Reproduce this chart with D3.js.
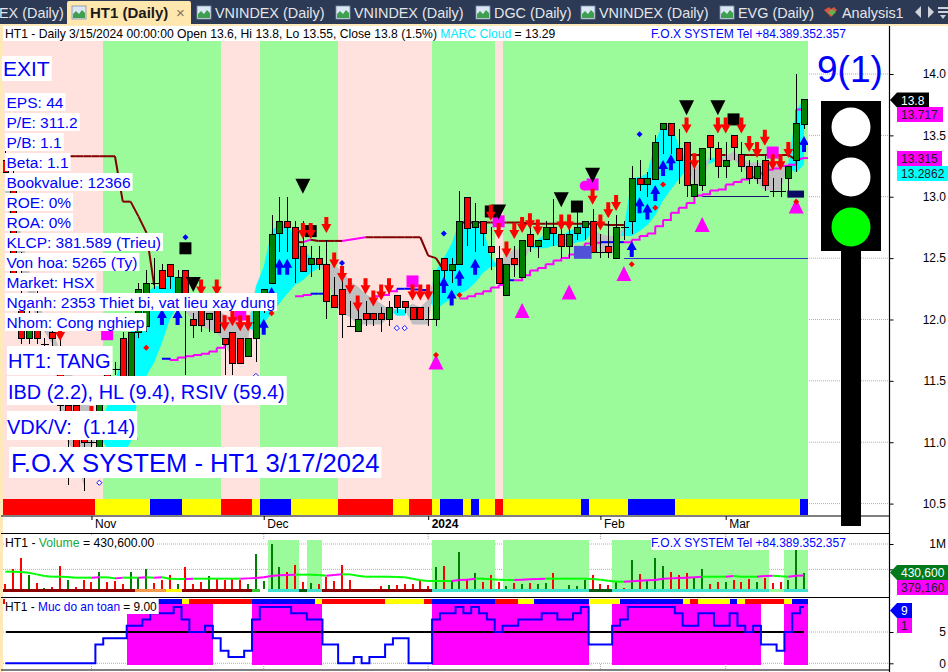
<!DOCTYPE html>
<html><head><meta charset="utf-8">
<script src="https://cdn.jsdelivr.net/npm/d3@7/dist/d3.min.js"></script>
<style>
html,body{margin:0;padding:0;background:#fff;overflow:hidden}
svg{display:block;font-family:"Liberation Sans",Arial,sans-serif}
text{white-space:pre}
.crisp{shape-rendering:crispEdges}
</style></head><body><svg id="c" width="948" height="672"></svg>
<script>
// ---- candle data, index = bars ago (0 = 3/15/2024)
const opens=[13.6,13.3,13.15,13.05,13.05,13.3,13.15,13.25,13.35,13.5,13.25,13.4,13.5,13.1,13.0,13.45,13.4,13.6,13.55,13.15,13.1,13.15,12.8,12.75,12.5,12.6,12.55,12.8,12.75,12.7,12.6,12.7,12.75,12.65,12.6,12.7,12.35,12.5,12.2,12.5,12.6,12.8,12.75,13.0,12.45,12.4,12.5,12.0,12.0,12.1,12.1,12.15,12.2,12.0,12.05,12.05,12.05,11.9,11.95,12.25,12.2,12.45,12.5,12.45,12.6,12.75,12.8,12.7,12.3,12.1,11.85,11.7,11.85,11.9,11.85,12.1,12.0,12.1,12.0,12.4,12.1,12.45,12.4,12.3,11.95,11.9,11.4,11.85,11.6,11.6,10.95,11.0,11.05,11.3,11.3,11.75,11.9,11.8,12.05,11.85,12.2,13.1,13.3];
const highs=[13.8,14.0,13.25,13.15,13.15,13.35,13.3,13.3,13.45,13.5,13.45,13.45,13.5,13.4,13.25,13.45,13.55,13.6,13.6,13.5,13.2,13.3,13.25,12.8,12.85,12.8,12.7,12.9,12.8,12.9,12.8,12.8,12.98,12.8,12.65,12.75,12.65,12.6,12.45,12.6,12.75,12.8,12.95,13.0,13.05,12.5,12.5,12.4,12.1,12.1,12.1,12.15,12.2,12.15,12.1,12.05,12.15,12.1,12.15,12.35,12.35,12.65,12.6,12.6,12.8,12.8,13.0,13.0,12.85,12.25,12.15,11.85,11.85,11.9,11.85,12.15,12.05,12.15,12.05,12.4,12.4,12.45,12.45,12.5,12.4,12.3,11.9,11.9,11.65,11.7,11.5,11.1,11.1,11.35,11.4,11.85,12.05,11.85,12.3,12.2,12.55,13.3,13.4];
const lows=[13.55,13.2,13.05,13.0,13.0,13.05,13.1,13.1,13.2,13.3,13.15,13.15,13.3,13.05,13.0,13.0,13.1,13.35,13.35,13.15,13.0,13.05,12.7,12.65,12.5,12.5,12.5,12.55,12.65,12.65,12.5,12.5,12.6,12.65,12.5,12.55,12.35,12.35,12.2,12.3,12.4,12.6,12.55,12.6,12.45,12.3,12.3,11.95,11.95,12.0,12.0,12.05,12.05,11.95,11.9,11.95,11.95,11.9,11.95,11.85,12.1,12.0,12.4,12.35,12.4,12.3,12.55,12.55,12.3,12.05,11.65,11.7,11.65,11.55,11.55,11.9,11.9,11.9,11.85,11.55,12.05,12.25,12.25,12.25,11.9,11.85,11.35,11.45,11.55,11.5,10.9,10.95,10.6,10.95,10.65,11.2,11.75,11.75,11.8,11.8,11.8,12.3,13.15];
const closes=[13.8,13.6,13.25,13.05,13.05,13.1,13.25,13.15,13.25,13.4,13.3,13.25,13.4,13.4,13.1,13.1,13.3,13.5,13.6,13.45,13.15,13.1,13.15,12.75,12.75,12.55,12.55,12.55,12.8,12.75,12.7,12.6,12.7,12.75,12.65,12.6,12.65,12.45,12.45,12.3,12.55,12.7,12.8,12.75,12.8,12.45,12.4,12.4,12.0,12.0,12.0,12.1,12.1,12.1,12.0,12.0,12.0,12.0,11.95,12.05,12.1,12.15,12.45,12.5,12.4,12.5,12.75,12.8,12.7,12.25,12.1,11.85,11.65,11.65,11.8,11.9,12.05,11.95,11.95,12.1,12.35,12.35,12.25,12.3,12.3,12.25,11.9,11.5,11.6,11.5,11.45,11.0,11.0,10.95,11.25,11.3,11.85,11.8,11.85,12.05,11.85,12.35,13.2];
// cloud edges, bars ago
const cloudFast=[13.8,13.7,13.27,13.05,13.05,13.05,13.12,13.18,13.25,13.3,13.27,13.31,13.32,13.1,13.08,13.3,13.42,13.6,13.6,13.45,13.19,13.16,13.15,12.75,12.54,12.54,12.55,12.72,12.8,12.75,12.72,12.68,12.7,12.7,12.65,12.58,12.43,12.44,12.4,12.42,12.51,12.75,12.8,12.81,12.8,12.62,12.5,12.4,11.96,11.96,11.96,12.08,12.09,12.02,11.96,11.96,11.96,11.96,12.02,12.05,12.13,12.38,12.43,12.51,12.57,12.67,12.77,12.78,12.72,12.43,12.27,11.82,11.65,11.66,11.81,11.89,11.92,11.94,12.0,12.06,12.32,12.38,12.27,12.27,12.21,12.0,11.9,11.7,11.5,11.3,11.1,10.95,10.65,10.9,11.0,11.2,11.8,11.9,12.0,12.2,12.4,12.7,13.0];
const cloudSlow=[13.26,13.2,13.23,13.27,13.27,13.27,13.28,13.28,13.32,13.37,13.33,13.3,13.27,13.26,13.25,13.22,13.14,13.06,12.97,12.85,12.77,12.72,12.68,12.68,12.68,12.68,12.7,12.71,12.64,12.63,12.6,12.6,12.6,12.58,12.58,12.58,12.57,12.57,12.54,12.43,12.43,12.38,12.3,12.24,12.21,12.17,12.13,12.08,12.16,12.1,12.13,12.03,12.03,12.08,12.13,12.17,12.21,12.27,12.31,12.4,12.44,12.46,12.42,12.38,12.32,12.28,12.21,12.13,12.05,11.97,11.89,11.94,12.0,12.02,12.04,12.08,12.09,12.1,12.12,12.13,12.11,12.0,11.81,11.65,11.54,11.4,11.0,10.9,10.9,10.95,11.05,11.28,11.4,11.5,11.6,11.75,11.9,12.0,12.2,12.4,12.7,12.95,13.2];
const _=null;
const upperLine=[13.315,13.3,13.34,13.34,13.34,13.34,13.34,13.34,13.34,_,13.34,13.34,_,13.34,13.34,13.34,_,_,_,_,_,_,_,12.77,12.77,12.77,12.78,12.78,12.78,12.78,12.78,12.78,12.78,12.78,12.78,12.78,12.79,12.79,12.79,12.79,12.79,12.79,12.79,12.79,12.79,_,12.4,12.5,12.52,12.67,12.67,12.67,12.67,12.67,12.67,12.67,12.67,12.66,12.65,12.64,12.64,12.64,12.64,12.65,12.63,12.63,_,_,_,_,_,_,_,_,_,_,_,_,_,_,_,_,_,12.28,12.71,12.84,12.96,12.96,13.33,13.33,13.33,13.33,13.33,13.33,13.33,13.33,13.33,13.33,13.33,13.33,13.33,13.33,13.33];
const lowerLine=[13.717,13.71,13.26,13.25,13.23,13.22,13.19,13.16,13.14,13.12,13.1,13.06,13.05,13.02,13.01,12.95,12.91,12.87,12.81,12.76,12.7,12.68,12.65,12.63,12.63,12.63,12.63,12.625,12.62,12.58,12.53,12.5,12.48,12.45,12.42,12.4,12.36,12.32,12.32,12.28,12.26,12.23,12.21,12.19,12.17,_,_,_,12.23,12.24,12.245,12.25,12.25,12.23,12.2,12.19,_,_,_,_,_,12.21,12.21,12.21,12.2,12.19,_,_,_,_,_,_,_,_,11.81,11.77,11.74,11.72,11.71,11.7,11.69,11.67,11.68,_,_,_,_,_,_,_,_,_,_,_,_,_,_,_,_,_,_,_,_];
// signal marks: [bars ago, price]
const downTriangles=[[64,13.09],[78,12.29],[39,12.88],[31,12.98],[27,13.18],[15,13.73],[11,13.73]];
const upTriangles=[[47,11.65],[36,12.07],[30,12.22],[23,12.37],[13,12.77],[1,12.92],[86,11.08]];
const blackSquares=[[79,12.58],[63,12.72],[40,12.88],[29,12.92],[9,13.63]];
const magentaSquares=[[50,12.31],[39,12.8],[27,13.1],[4,13.36],[72,12.04],[89,11.88]];
const magentaDots=[[28,13.09]];
const blueArrows=[[22,12.575],[21,12.93],[20,12.88],[19,13.03],[18,13.235],[17,13.28],[0,13.43],[69,11.94],[67,12.43],[66,12.43],[46,12.28],[45,12.18],[44,12.34],[42,12.43],[68,12.2],[82,12.02],[80,12.02]];
const redArrows=[[35,12.8],[34,12.75],[31,12.79],[30,12.79],[27,13.0],[26,12.79],[25,12.89],[24,12.95],[15,13.58],[14,13.29],[11,13.58],[10,13.58],[8,13.58],[7,13.43],[6,13.38],[5,13.48],[4,13.28],[3,13.28],[2,13.38],[64,12.72],[63,12.72],[61,12.77],[60,12.48],[59,12.37],[58,12.27],[57,12.13],[56,12.27],[55,12.17],[54,12.22],[53,12.27],[50,12.22],[49,12.22],[48,12.22],[40,12.87],[39,12.72],[38,12.57],[37,12.72],[36,12.77],[77,12.26],[75,12.26],[74,11.97],[73,12.01],[72,11.97],[71,11.97],[95,11.89],[91,11.23]];
const blueDiamonds=[[59,12.46],[46,12.7],[21,13.51],[79,12.67]];
const redDiamonds=[[84,11.77],[68,12.05],[44,12.2],[47,11.71],[18,13.1],[19,12.91],[22,12.45],[1,12.96]];
const openDiamonds=[[52,11.93],[51,11.93],[90,10.67],[70,11.54]];
const supportLevels=[{from:13,to:5,price:13.0},{from:23,to:0,price:12.5}];
// bar states as runs, oldest bar first
const backgroundRuns=[13,15,5,10,12,8,1,39];
const backgroundStates=["weak","strong","weak","strong","weak","strong","weak","strong"];
const trendRuns=[12,7,4,5,4,1,4,6,7,2,3,1,3,1,1,2,1,10,1,5,6,16,1];
const trendStates=["R","Y","B","Y","R","Y","B","Y","R","Y","R","Y","B","Y","B","Y","R","Y","B","Y","B","Y","B"];
// volume, thousands, oldest bar first
const volume=[211,500,724,388,224,132,158,566,290,145,290,250,447,250,270,211,447,355,507,230,290,388,211,546,211,250,368,309,290,309,290,211,803,270,1000,546,447,586,250,230,211,349,270,586,290,112,92,92,171,191,191,211,211,290,171,546,566,270,842,309,434,250,388,250,171,230,211,230,211,230,428,92,191,171,290,388,211,191,250,132,684,408,290,724,566,447,388,428,329,507,211,250,250,290,250,309,250,329,230,250,290,882,430.6];
const volumeSide="rrrgrgrrgr"+"rrgrrrgggr"+"rrgrrrgrrr"+"rggggg"+"rrrg"+"rrrrrgrrrg"+"rrrrrgrggr"+"grrrgrgrgg"+"rrgggrrrgr"+"grgggrrrgg"+"rrgrrrgrrr"+"ggg";
const volumeMA=[454,454,447,434,401,368,355,355,349,336,336,336,342,342,322,336,336,336,342,336,342,316,309,309,316,316,316,316,316,316,316,322,329,342,368,382,388,395,395,395,388,375,388,401,401,375,355,355,355,355,349,342,316,283,270,270,270,270,290,296,316,316,303,296,290,290,296,303,309,316,316,316,316,316,316,309,296,276,257,257,263,276,283,290,316,322,329,336,342,355,355,355,355,368,355,355,355,368,375,362,355,375,379.16];
const volStripRuns=[17,4,2,9,1,1,4,1,2,14,20,3,20,2,3];
const volStripStates=["dark","orange","yellow","dark","green","none","teal","deep","teal","dark","teal","deep","teal","pale","teal"];
const volGreenRuns=[34,4,1,2,14,8,1,11,3,20,2,3];
const volGreenStates=[0,1,0,1,0,1,0,1,0,1,0,1];
// safety level, oldest bar first
const safety=[0,0,0,0,0,0,0,0,0,0,0,0,3,4,4,4,6,6,7,8,8,8,9,7,5,5,6,4,2,1,1,2,7,9,9,9,9,8,8,7,7,3,3,0,0,1,0,1,1,3,4,4,0,0,0,7,8,8,9,8,9,8,7,5,6,6,7,7,7,8,8,7,7,8,9,3,3,3,6,7,9,9,9,9,9,9,8,6,6,8,8,6,6,8,6,5,6,3,3,2,5,8,9];
const safeRuns=[16,11,5,9,14,20,3,19,3,3];
const safeStates=[0,1,0,1,0,1,0,1,0,1];
const safeStripRuns=[20,3,1,8,8,1,8,5,1,8,3,2,7,4,8,1,1,4,1,1,5,1,2];
const safeStripStates=["R","B","Y","R","B","Y","R","Y","R","B","R","Y","B","Y","B","Y","R","Y","B","Y","R","Y","B"];
// axis labels
const priceTicks=[10.5,11,11.5,12,12.5,13,13.5,14];
const volumeTicks=[500,1000];
const safetyTicks=[0,5];
const monthBars=[91,69,48,26,10];
const monthLabels=["Nov","Dec","2024","Feb","Mar"];
const tabLabels=["EX (Daily)","HT1 (Daily)","VNINDEX (Daily)","VNINDEX (Daily)","DGC (Daily)","VNINDEX (Daily)","EVG (Daily)","Analysis1"];
const infoLines=["EPS: 44","P/E: 311.2","P/B: 1.1","Beta: 1.1","Bookvalue: 12366","ROE: 0%","ROA: 0%","KLCP: 381.589 (Trieu)","Von hoa: 5265 (Ty)","Market: HSX","Nganh: 2353 Thiet bi, vat lieu xay dung","Nhom: Cong nghiep"];

// ---- layout and styles
const N=opens.length, STEP=7.83, BLUE="#0000ff", MAG="#ff00ff";
const svg=d3.select("#c");
const x=d3.scaleLinear().domain([N-1,0]).range([804-STEP*(N-1),804]);
const xi=i=>x(N-1-i);
const yP=d3.scaleLinear().domain([10.5,14]).range([503.6,74]);
const yV=d3.scaleLinear().domain([0,1000]).range([594.7,544]);
const yS=d3.scaleLinear().domain([0,5]).range([663.3,632]);
const runRects=(runs,states)=>{let i=0;return runs.map((n,j)=>{const r={a:xi(i)-STEP/2,b:xi(i+n-1)+STEP/2,s:states[j]};i+=n;return r;}).map(r=>({...r,a:Math.max(3,r.a),b:Math.min(808,r.b)}));};
const trendColor={R:"#ff0000",Y:"#ffff00",B:"#0000ff"};

// page frame
svg.append("rect").attr("width",948).attr("height",672).attr("fill","#fff");
svg.append("rect").attr("x",0).attr("y",26).attr("width",3).attr("height",646).attr("fill","#ffe9b8");

// grid to the right of the plots
const grid=svg.append("g").attr("stroke","#b0b0b0").attr("stroke-dasharray","1,1");
priceTicks.forEach(t=>grid.append("line").attr("x1",3).attr("x2",889).attr("y1",yP(t)).attr("y2",yP(t)));
volumeTicks.forEach(t=>grid.append("line").attr("x1",3).attr("x2",889).attr("y1",yV(t)).attr("y2",yV(t)));
safetyTicks.forEach(t=>grid.append("line").attr("x1",3).attr("x2",889).attr("y1",yS(t)).attr("y2",yS(t)));

// main plot
svg.append("clipPath").attr("id","mainClip").append("rect").attr("x",3).attr("y",41).attr("width",805).attr("height",458);
svg.append("g").attr("class","crisp").selectAll("rect").data(runRects(backgroundRuns,backgroundStates)).join("rect")
 .attr("x",d=>d.a).attr("width",d=>d.b-d.a).attr("y",41).attr("height",458).attr("fill",d=>d.s==="strong"?"#9bfb9b":"#ffe2de");
const main=svg.append("g").attr("clip-path","url(#mainClip)");
const bars=d3.range(N);
main.append("path").datum(bars).attr("fill","#00ffff").attr("d",d3.area().x(k=>x(k)).y0(k=>yP(cloudSlow[k])).y1(k=>yP(Math.max(cloudFast[k],cloudSlow[k]))));
main.append("path").datum(bars).attr("fill","#c0c0c0").attr("d",d3.area().x(k=>x(k)).y0(k=>yP(cloudFast[k])).y1(k=>yP(Math.max(cloudFast[k],cloudSlow[k]))));
supportLevels.forEach((l,j)=>main.append("line").attr("x1",x(l.from)).attr("x2",x(l.to)+4).attr("y1",yP(l.price)).attr("y2",yP(l.price)).attr("stroke",j?"#3333cc":"#14146e").attr("stroke-width",1).attr("class","crisp"));
// guide lines, coloured by direction
const drawSegs=(arr,up,down,w,stepped)=>{for(let k=N-1;k>0;k--){const a=arr[k],b=arr[k-1];if(a==null||b==null)continue;
 const d=stepped?d3.line().curve(d3.curveStepAfter)([[x(k),yP(a)],[x(k-1),yP(b)]]):d3.line()([[x(k),yP(a)],[x(k-1),yP(b)]]);
 main.append("path").attr("d",d).attr("fill","none").attr("stroke",b>a?up:down).attr("stroke-width",w);}};
drawSegs(upperLine,MAG,"#800000",2,false);
drawSegs(lowerLine,MAG,"#0000ff",2,true);
main.append("line").attr("x1",x(0)).attr("x2",808).attr("y1",yP(upperLine[0])).attr("y2",yP(upperLine[0])).attr("stroke",MAG).attr("stroke-width",2);
// candles
bars.slice().reverse().forEach(k=>{
 const o=opens[k],c=closes[k],up=c>=o,cx=Math.round(x(k))+.5;
 const g=main.append("g").attr("class","crisp");
 g.append("line").attr("x1",cx).attr("x2",cx).attr("y1",yP(highs[k])).attr("y2",yP(lows[k])).attr("stroke","#000");
 if(o===c){g.append("line").attr("x1",cx-4).attr("x2",cx+4).attr("y1",Math.round(yP(o))+.5).attr("y2",Math.round(yP(o))+.5).attr("stroke","#000");return;}
 g.append("rect").attr("x",cx-3).attr("width",6).attr("y",Math.round(yP(Math.max(o,c)))+.5).attr("height",Math.round(Math.abs(yP(o)-yP(c))))
  .attr("fill",up?"#008000":"#ff0000").attr("stroke","#000");
});
// marks
const at=d=>`translate(${x(d[0])},${yP(d[1])})`;
const tri=(dir)=>d3.line()([[-7.5,-7*dir],[7.5,-7*dir],[0,8*dir]])+"Z";
const arrow=(dir)=>d3.line()([[-2,-8*dir],[2,-8*dir],[2,-1*dir],[5,-1*dir],[0,8*dir],[-5,-1*dir],[-2,-1*dir]])+"Z";
const place=(data,d,fill)=>main.append("g").selectAll("path").data(data).join("path").attr("d",d).attr("transform",at).attr("fill",fill);
const dia=r=>d3.line()([[0,-r],[r,0],[0,r],[-r,0]])+"Z";
place(magentaDots,d3.symbol(d3.symbolCircle,80)(),MAG);
place(magentaSquares,"M-6,-6H6V6H-6Z",MAG);
place(blackSquares,"M-6,-6H6V6H-6Z","#000");
place(downTriangles,tri(1),"#000");
place(upTriangles,tri(-1),MAG);
place(blueArrows,arrow(-1),"#0000ff");
place(redArrows,arrow(1),"#ff0000");
place(blueDiamonds,dia(3),"#0000ff");
place(redDiamonds,dia(3),"#ff0000");
place(openDiamonds,dia(2.6),"#fff").attr("stroke","#0000ff").attr("stroke-width",.9);
main.append("rect").attr("x",x(29)-3).attr("width",x(27)-x(29)+2).attr("y",yP(12.6)).attr("height",13).attr("fill","#5050d8");
main.append("rect").attr("x",x(2)-1).attr("width",x(0)-x(2)+1).attr("y",yP(13.05)).attr("height",7).attr("fill","#0a0a64");
// trend strip
svg.append("g").attr("class","crisp").selectAll("rect").data(runRects(trendRuns,trendStates)).join("rect")
 .attr("x",d=>d.a).attr("width",d=>d.b-d.a).attr("y",499).attr("height",16).attr("fill",d=>trendColor[d.s]);

// volume panel
svg.append("g").attr("class","crisp").selectAll("rect").data(runRects(volGreenRuns,volGreenStates).filter(d=>d.s)).join("rect")
 .attr("x",d=>d.a).attr("width",d=>d.b-d.a).attr("y",540).attr("height",52).attr("fill","#9bfb9b");
svg.append("g").attr("class","crisp").selectAll("rect").data(volume).join("rect")
 .attr("x",(v,i)=>Math.round(xi(i))-1).attr("width",2).attr("y",v=>yV(v)).attr("height",v=>592-yV(v))
 .attr("fill",(v,i)=>volumeSide[i]==="g"?"#008000":"#ff0000");
const stripCol={dark:"#8b0000",orange:"#f49a4c",yellow:"#ffff00",green:"#32cd32",none:"#fff",teal:"#40e0d0",deep:"#0b5a12",pale:"#9bfb9b"};
svg.append("g").attr("class","crisp").selectAll("rect").data(runRects(volStripRuns,volStripStates)).join("rect")
 .attr("x",d=>d.a).attr("width",d=>d.b-d.a).attr("y",589).attr("height",3).attr("fill",d=>stripCol[d.s]);
for(let i=1;i<N;i++){svg.append("line").attr("x1",xi(i-1)).attr("x2",xi(i)).attr("y1",yV(volumeMA[i-1])).attr("y2",yV(volumeMA[i]))
 .attr("stroke",volumeMA[i]>volumeMA[i-1]?MAG:"#00ff00").attr("stroke-width",2);}

// safety panel
svg.append("g").attr("class","crisp").selectAll("rect").data(runRects(safeRuns,safeStates).filter(d=>d.s)).join("rect")
 .attr("x",d=>d.a).attr("width",d=>d.b-d.a).attr("y",604).attr("height",61).attr("fill",MAG);
svg.append("g").attr("class","crisp").selectAll("rect").data(runRects(safeStripRuns,safeStripStates)).join("rect")
 .attr("x",d=>d.a).attr("width",d=>d.b-d.a).attr("y",599).attr("height",5).attr("fill",d=>trendColor[d.s]);
svg.append("line").attr("x1",6).attr("x2",804).attr("y1",yS(5)).attr("y2",yS(5)).attr("stroke","#000").attr("stroke-width",2);
svg.append("path").datum(safety).attr("fill","none").attr("stroke","#0000ff").attr("stroke-width",2)
 .attr("d",d3.line().x((v,i)=>xi(i)).y(v=>yS(v)).curve(d3.curveStep));

// separators, time axis and lower-panel month marks
[516,533.5,597.5,670].forEach(y=>svg.append("line").attr("x1",1).attr("x2",889).attr("y1",y).attr("y2",y).attr("stroke","#000").attr("stroke-width",1.2));
const timeAxis=d3.axisBottom(x).tickValues(monthBars).tickSize(4).tickFormat((v,j)=>monthLabels[j]);
const tg=svg.append("g").attr("transform","translate(0,516)").call(timeAxis);
tg.select(".domain").remove();
tg.selectAll("text").attr("text-anchor","start").attr("x",3).attr("y",3).attr("dy","0.71em").attr("fill","#000").attr("font-size",12)
 .attr("font-family",'"Liberation Sans"').attr("font-weight",(v,j)=>monthLabels[j]==="2024"?"bold":"normal");
tg.selectAll("line").attr("stroke","#000");
monthBars.forEach(k=>{[[534,539],[664,669]].forEach(s=>svg.append("line").attr("x1",x(k)).attr("x2",x(k)).attr("y1",s[0]).attr("y2",s[1]).attr("stroke","#a8a8a8").attr("stroke-dasharray","1,1"));});

// text box helper
function boxed(t,tx,base,size,opt={}){
 const g=svg.append("g");const r=g.append("rect").attr("fill","#fff");
 const tt=g.append("text").attr("x",tx).attr("y",base).attr("font-size",size).attr("fill",opt.fill||BLUE);
 (Array.isArray(t)?t:[[t,opt.fill||BLUE]]).forEach(p=>tt.append("tspan").attr("fill",p[1]).text(p[0]));
 const w=tt.node().getComputedTextLength();
 r.attr("x",opt.x!=null?opt.x:tx-1.5).attr("y",opt.top).attr("width",opt.w||(tx-(opt.x!=null?opt.x:tx-1.5))+w+2).attr("height",opt.h);
 return g;
}
// information boxes
boxed("EXIT",3,76,21,{top:56,h:25,x:2});
infoLines.forEach((t,j)=>boxed(t,6.5,108+j*20,15.5,{top:93+j*20,h:18,x:5}));
boxed("HT1: TANG",8,368,20,{top:346,h:29,x:7});
boxed("IBD (2.2), HL (9.4), RSIV (59.4)",8,399,19.9,{top:376,h:29,x:7});
boxed("VDK/V:  (1.14)",7,434,20,{top:411,h:29,x:7});
boxed("F.O.X SYSTEM - HT1 3/17/2024",11,472,25.6,{top:447,h:31,x:9});

// header lines
svg.append("rect").attr("x",3).attr("y",26).attr("width",886).attr("height",15).attr("fill","#fff");
boxed([["HT1 - Daily 3/15/2024 00:00:00 Open 13.6, Hi 13.8, Lo 13.55, Close 13.8 (1.5%) ","#000"],["MARC Cloud","#00e8ff"],[" = 13.29","#000"]],5,38,12.15,{top:26,h:15,x:3});
boxed("F.O.X SYSTEM Tel +84.389.352.357",651,38,12,{top:27,h:14,x:651});
boxed("F.O.X SYSTEM Tel +84.389.352.357",651,547,12,{top:537,h:13,x:651});
boxed([["HT1 - ","#000"],["Volume","#18a838"],[" = 430,600.00","#000"]],5,547,12.2,{top:536,h:13,x:5});
boxed([["HT1 - ","#000"],["Muc do an toan","#0000ff"],[" = 9.00","#000"]],5,611,11.9,{top:599,h:15,x:5});

// signal count and traffic light
svg.append("text").attr("x",817).attr("y",82).attr("font-size",37).attr("fill",BLUE).text("9(1)");
const light=svg.append("g");
light.append("rect").attr("x",841).attr("y",250).attr("width",20).attr("height",276).attr("fill","#000");
light.append("rect").attr("x",821).attr("y",101).attr("width",60).attr("height",150).attr("fill","#000");
[[127,"#fff"],[177,"#fff"],[227,"#00ff00"]].forEach(c=>light.append("circle").attr("cx",851).attr("cy",c[0]).attr("r",19.5).attr("fill",c[1]));

// right axes
svg.append("line").attr("x1",889.5).attr("x2",889.5).attr("y1",26).attr("y2",672).attr("stroke","#000").attr("stroke-width",1.2);
const rightAxis=(scale,ticks,fmt)=>{const g=svg.append("g").attr("transform","translate(889.5,0)").call(d3.axisRight(scale).tickValues(ticks).tickSize(4).tickFormat(fmt));
 g.select(".domain").remove();g.selectAll("line").attr("stroke","#000");
 g.selectAll("text").attr("x",56.5).attr("text-anchor","end").attr("font-size",12).attr("font-family",'"Liberation Sans"').attr("fill","#000");};
rightAxis(yP,priceTicks,d3.format(".1f"));
rightAxis(yV,volumeTicks,v=>v===1000?"1M":"");
rightAxis(yS,safetyTicks,d3.format("d"));

// value tags
function tag(label,right,top,fill,col,pointer){
 const h=15,m=top+h/2;
 svg.append("path").attr("fill",fill).attr("d",pointer?`M890,${m}L897,${top}H${right}V${top+h}H897Z`:`M897,${top}H${right}V${top+h}H897Z`);
 svg.append("text").attr("x",901).attr("y",top+12).attr("font-size",12).attr("fill",col).text(label);
}
tag("13.8",929,92.5,"#000","#fff",true);
tag("13.717",943,107,MAG,"#222");
tag("13.315",942,151,MAG,"#222");
tag("13.2862",948,166,"#00ffff","#222");
tag("430,600",948,565,"#007a1a","#fff",true);
tag("379,160",948,580,MAG,"#222");
tag("9",912,603,"#0000ff","#fff",true);
tag("1",912,618,MAG,"#222");

// tab bar
svg.append("rect").attr("width",948).attr("height",24).attr("fill","#2c3a55");
svg.append("rect").attr("y",24).attr("width",948).attr("height",2).attr("fill","#ffe9b8");
svg.append("path").attr("d","M67,25V3Q67,1 69,1H189Q191,1 191,3V25Z").attr("fill","#ffe7ad");
const tabX=[-1,90,215,354,494,599,738,842], iconX=[null,72,197,336,476,581,720,null];
tabLabels.forEach((t,j)=>{
 svg.append("text").attr("x",tabX[j]).attr("y",18).attr("font-size",j===1?15:14.4).attr("font-weight",j===1?"bold":"normal").attr("fill",j===1?"#1a1a1a":"#e4e6ea").text(t);
 if(iconX[j]!=null){const ic=svg.append("g").attr("transform",`translate(${iconX[j]},6)`);
  ic.append("rect").attr("width",14).attr("height",13).attr("fill","#dbe7f4").attr("stroke","#7f8ea5").attr("stroke-width",.8);
  ic.append("path").attr("d","M1,12V8L4,5L7,8L10,4L13,7V12Z").attr("fill","#3f9f4f");}
});
svg.append("text").attr("x",176).attr("y",18).attr("font-size",15).attr("fill","#7d725a").text("×");
svg.append("path").attr("d","M824,10l5,-3l2,2l3,-2l3,3l-6,7z").attr("fill","#e05040");
svg.append("path").attr("d","M828,12l4,-3l4,3l-4,4z").attr("fill","#6bb04a");
svg.append("path").attr("d","M921,6v12l-6,-6zM928,6v12l6,-6z").attr("fill","#cfd3da");
svg.append("path").attr("d","M938,7h10v2h-10zM938,11h10v2h-10zM940,15h6l-3,4z").attr("fill","#cfd3da");
</script></body></html>
